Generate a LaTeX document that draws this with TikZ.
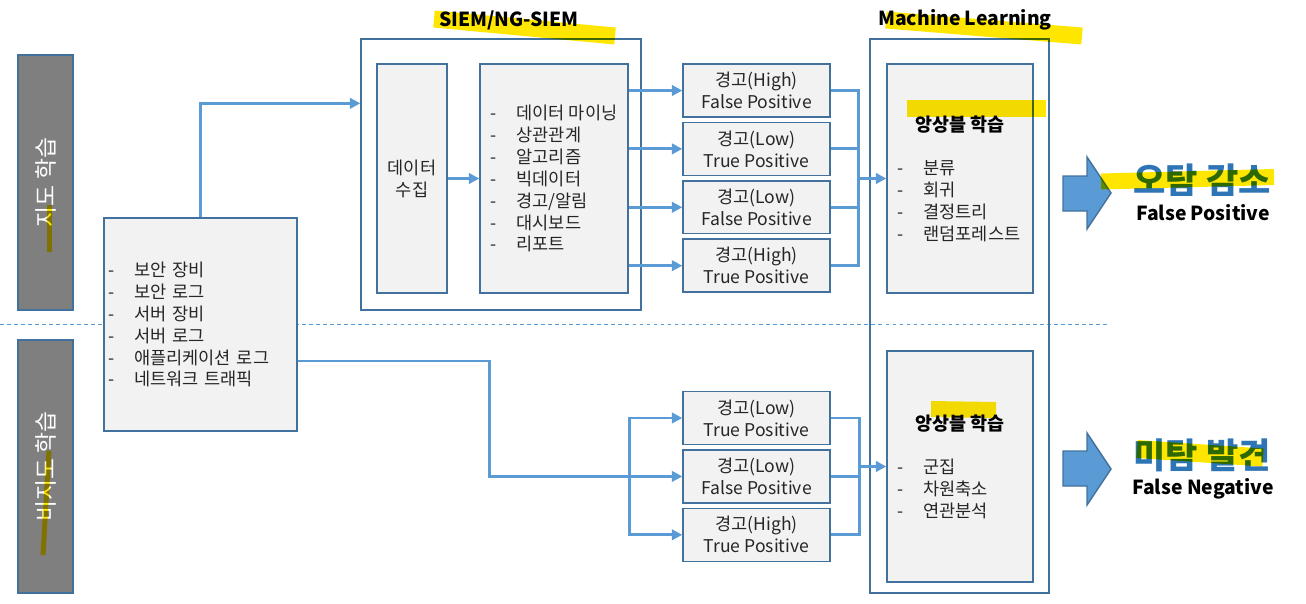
\documentclass[tikz,border=0pt]{standalone}
\usepackage{fontspec}
\setmainfont{Noto Sans CJK KR}
\usetikzlibrary{arrows.meta,positioning,calc}

\definecolor{boxline}{HTML}{41719C}
\definecolor{wire}{HTML}{5B9BD5}
\definecolor{boxfill}{HTML}{F2F2F2}
\definecolor{barfill}{HTML}{7F7F7F}
\definecolor{inktext}{HTML}{262626}
\definecolor{bigblue}{HTML}{2E75B6}
\definecolor{marker}{HTML}{FFE600}

\newcommand\itm[1]{\makebox[0.52cm][l]{-}#1}
\newcommand\mitm[1]{\makebox[2.5cm][l]{\itm{#1}}}

\begin{document}
\begin{tikzpicture}[x=0.02cm,y=-0.02cm,>={Triangle[length=6pt,width=6pt]},
    every node/.style={font=\fontsize{10}{12.5}\selectfont,text=inktext},
    box/.style={draw=boxline,line width=0.8pt,fill=boxfill,inner sep=0pt},
    frame/.style={draw=boxline,line width=0.8pt,inner sep=0pt},
    sidebar/.style={draw=boxline,line width=0.8pt,fill=barfill,text=white,rotate=90,
        minimum width=5.1cm,minimum height=1.1cm,font=\fontsize{13}{15}\selectfont},
    alert/.style={box,minimum width=2.94cm,minimum height=1.06cm,align=center},
    mlbox/.style={box,minimum width=2.92cm,align=center},
    heading/.style={font=\fontsize{11}{13}\selectfont\bfseries,text=black},
    goal/.style={font=\fontsize{20}{22}\selectfont\bfseries,text=bigblue},
    link/.style={draw=wire,line width=1.6pt},
    bigarrow/.style={fill=wire,draw=boxline,line width=0.8pt},
    marker/.style={draw=marker,line cap=butt}]
    \useasboundingbox (0,0) rectangle (1306,603);

    % divider
    \draw[wire,line width=0.5pt,dash pattern=on 2pt off 2pt] (0,324) -- (1110,324);

    \node[sidebar] (sup) at (45.5,182.5) {지도 학습};
    \node[sidebar,minimum width=5.06cm] (unsup) at (45.5,466.5) {비지도 학습};

    \node[box,minimum width=3.86cm,minimum height=4.26cm,inner xsep=0.08cm,text width=3.7cm,align=left] (src) at (200.5,324.5)
        {\itm{보안 장비}\\\itm{보안 로그}\\\itm{서버 장비}\\\itm{서버 로그}\\\itm{애플리케이션 로그}\\\itm{네트워크 트래픽}};

    % SIEM
    \node[frame,minimum width=5.6cm,minimum height=5.42cm] (siem) at (501,174.5) {};
    \node[heading] (siemtitle) at (509,20) {SIEM/NG-SIEM};
    \node[box,minimum width=1.4cm,minimum height=4.58cm,align=center] (collect) at (412,178.5) {데이터\\수집};
    \node[box,minimum width=2.96cm,minimum height=4.58cm,align=left] (algo) at (554,178.5)
        {\itm{데이터 마이닝}\\\itm{상관관계}\\\itm{알고리즘}\\\itm{빅데이터}\\\itm{경고/알림}\\\itm{대시보드}\\\itm{리포트}};

    % alerts
    \node[alert] (a1) at (756.5,90.5) {경고(High)\\False Positive};
    \node[alert,below=0.08cm of a1] (a2) {경고(Low)\\True Positive};
    \node[alert,below=0.08cm of a2] (a3) {경고(Low)\\False Positive};
    \node[alert,below=0.08cm of a3] (a4) {경고(High)\\True Positive};

    \node[alert] (b1) at (756.5,418) {경고(Low)\\True Positive};
    \node[alert,below=0.08cm of b1] (b2) {경고(Low)\\False Positive};
    \node[alert,below=0.08cm of b2] (b3) {경고(High)\\True Positive};

    % Machine Learning
    \node[frame,minimum width=3.58cm,minimum height=11.08cm] (ml) at (959.5,316) {};
    \node[heading] (mltitle) at (965,20) {Machine Learning};
    \node[mlbox,minimum height=4.58cm] (ml1) at (960,178.5)
        {{\fontsize{10.5}{12.5}\selectfont\bfseries\color{black}앙상블 학습}\\[0.42cm]\mitm{분류}\\\mitm{회귀}\\\mitm{결정트리}\\\mitm{랜덤포레스트}};
    \node[mlbox,minimum height=4.62cm] (ml2) at (960,466.5)
        {{\fontsize{10.5}{12.5}\selectfont\bfseries\color{black}앙상블 학습}\\[0.42cm]\mitm{군집}\\\mitm{차원축소}\\\mitm{연관분석}};

    % connectors
    \draw[link,->] (src.north) |- ($(siem.north west)+(0,65)$);
    \draw[link,->] (collect) -- (algo);
    \foreach \n in {a1,a2,a3,a4}
        \draw[link,->] (algo.east |- \n.west) -- (\n.west);
    \coordinate (joinup) at ($(ml1.west)+(-28,0)$);
    \foreach \n in {a1,a2,a3,a4}
        \draw[link] (\n.east) -| (joinup);
    \draw[link,->] (joinup) -- (ml1.west);

    \coordinate (fork) at ($(b2.west)+(-53,0)$);
    \draw[link,->] ($(src.east)+(0,36.5)$) -| ($(fork)+(-140,0)$) -- (b2.west);
    \draw[link,->] (fork) |- (b1.west);
    \draw[link,->] (fork) |- (b3.west);
    \coordinate (joindown) at ($(ml2.west)+(-27,0)$);
    \foreach \n in {b1,b2,b3}
        \draw[link] (\n.east) -| (joindown);
    \draw[link,->] (joindown) -- (ml2.west);

    % results
    \filldraw[bigarrow] (1063,176) -- (1087,176) -- (1087,157) -- (1111,193) -- (1087,229) -- (1087,211) -- (1063,211) -- cycle;
    \filldraw[bigarrow] (1063,451) -- (1087,451) -- (1087,433) -- (1111,469) -- (1087,505) -- (1087,486) -- (1063,486) -- cycle;
    \node[goal] (fpgoal) at (1202,180) {오탐 감소};
    \node[heading] (fplabel) at (1203,213) {False Positive};
    \node[goal] (fngoal) at (1202,455) {미탐 발견};
    \node[heading] (fnlabel) at (1203,489) {False Negative};

    % highlighter marks
    \begin{scope}[blend mode=multiply]
        \draw[marker,line width=0.34cm] (434,19) -- (615,36);
        \draw[marker,line width=0.34cm] (886,20) -- (1082,36);
        \draw[marker,line width=0.34cm] (907,108.5) -- (1046,108.5);
        \draw[marker,line width=0.32cm] (1101,181.5) -- (1274,177);
        \draw[marker,line width=0.32cm] (931,409) -- (996,410);
        \draw[marker,line width=0.36cm] (1137,449) -- (1263,457.5);
        \draw[marker,line width=0.1cm] (49,205) -- (49,252);
        \draw[marker,line width=0.1cm] (49,451) -- (43,555);
    \end{scope}
\end{tikzpicture}
\end{document}
